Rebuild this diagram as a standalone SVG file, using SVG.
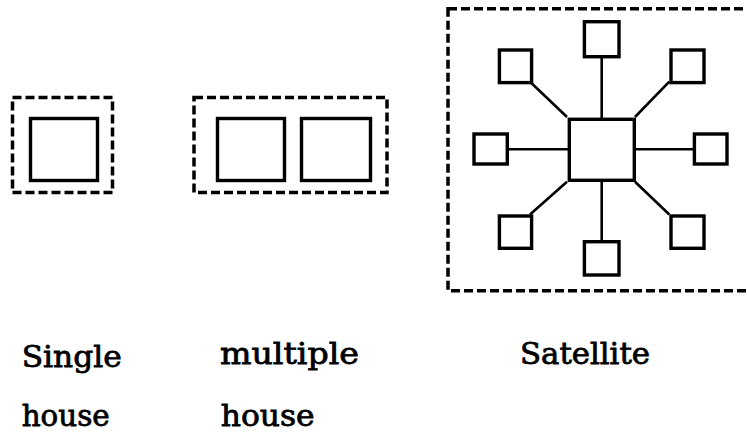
<svg xmlns="http://www.w3.org/2000/svg" width="747" height="434" viewBox="0 0 747 434">
<style>
.dash{fill:none;stroke:#000;stroke-width:3.5;stroke-dasharray:9 4}
.box{fill:#fff;stroke:#000;stroke-width:3.4}
.ln{stroke:#000;stroke-width:2.6;fill:none}
.lbl{font-family:"DejaVu Serif","Liberation Serif",serif;font-size:30px;fill:#000;stroke:#000;stroke-width:0.8}
</style>
<rect width="747" height="434" fill="#fff"/>
<g id="single">
<rect class="dash" x="12.5" y="97.5" width="100" height="95"/>
<rect class="box" x="30.5" y="118.5" width="67" height="62"/>
</g>
<g id="multiple">
<rect class="dash" x="194" y="97.5" width="193" height="95"/>
<rect class="box" x="217.5" y="118.5" width="67" height="62"/>
<rect class="box" x="301.5" y="118.5" width="69" height="62"/>
</g>
<g id="satellite-frame">
<rect class="dash" x="448" y="8.7" width="320" height="282"/>
</g>
<g id="connectors">
<line class="ln" x1="601.7" y1="58" x2="601.7" y2="119"/>
<line class="ln" x1="601.7" y1="181" x2="601.7" y2="241"/>
<line class="ln" x1="508" y1="149.3" x2="569" y2="149.3"/>
<line class="ln" x1="632" y1="149.3" x2="694" y2="149.3"/>
<line class="ln" x1="530" y1="81.7" x2="567" y2="117"/>
<line class="ln" x1="669.3" y1="81.7" x2="635" y2="117"/>
<line class="ln" x1="567" y1="181.7" x2="530" y2="214.5"/>
<line class="ln" x1="635" y1="181.7" x2="669.3" y2="214.5"/>
</g>
<g id="hub"><rect class="box" x="569.3" y="119.3" width="65" height="61"/></g>
<g id="sat-top"><rect class="box" x="584.4" y="21.7" width="34.6" height="35"/></g>
<g id="sat-top-left"><rect class="box" x="499.4" y="50" width="32.2" height="32.6"/></g>
<g id="sat-top-right"><rect class="box" x="671" y="50" width="33" height="32.6"/></g>
<g id="sat-left"><rect class="box" x="474" y="134" width="33.3" height="30"/></g>
<g id="sat-right"><rect class="box" x="694.4" y="134" width="32.6" height="30"/></g>
<g id="sat-bottom-left"><rect class="box" x="499.4" y="216" width="32.2" height="32.3"/></g>
<g id="sat-bottom"><rect class="box" x="584.4" y="241.7" width="34.6" height="33.3"/></g>
<g id="sat-bottom-right"><rect class="box" x="671" y="216" width="33" height="32.3"/></g>
<g id="labels">
<text class="lbl" x="21.7" y="367" textLength="100" lengthAdjust="spacingAndGlyphs">Single</text>
<text class="lbl" x="21.7" y="426" textLength="88" lengthAdjust="spacingAndGlyphs">house</text>
<text class="lbl" x="220" y="364" textLength="139" lengthAdjust="spacingAndGlyphs">multiple</text>
<text class="lbl" x="220.7" y="426" textLength="94" lengthAdjust="spacingAndGlyphs">house</text>
<text class="lbl" x="520" y="363.5" textLength="130" lengthAdjust="spacingAndGlyphs">Satellite</text>
</g>
</svg>
